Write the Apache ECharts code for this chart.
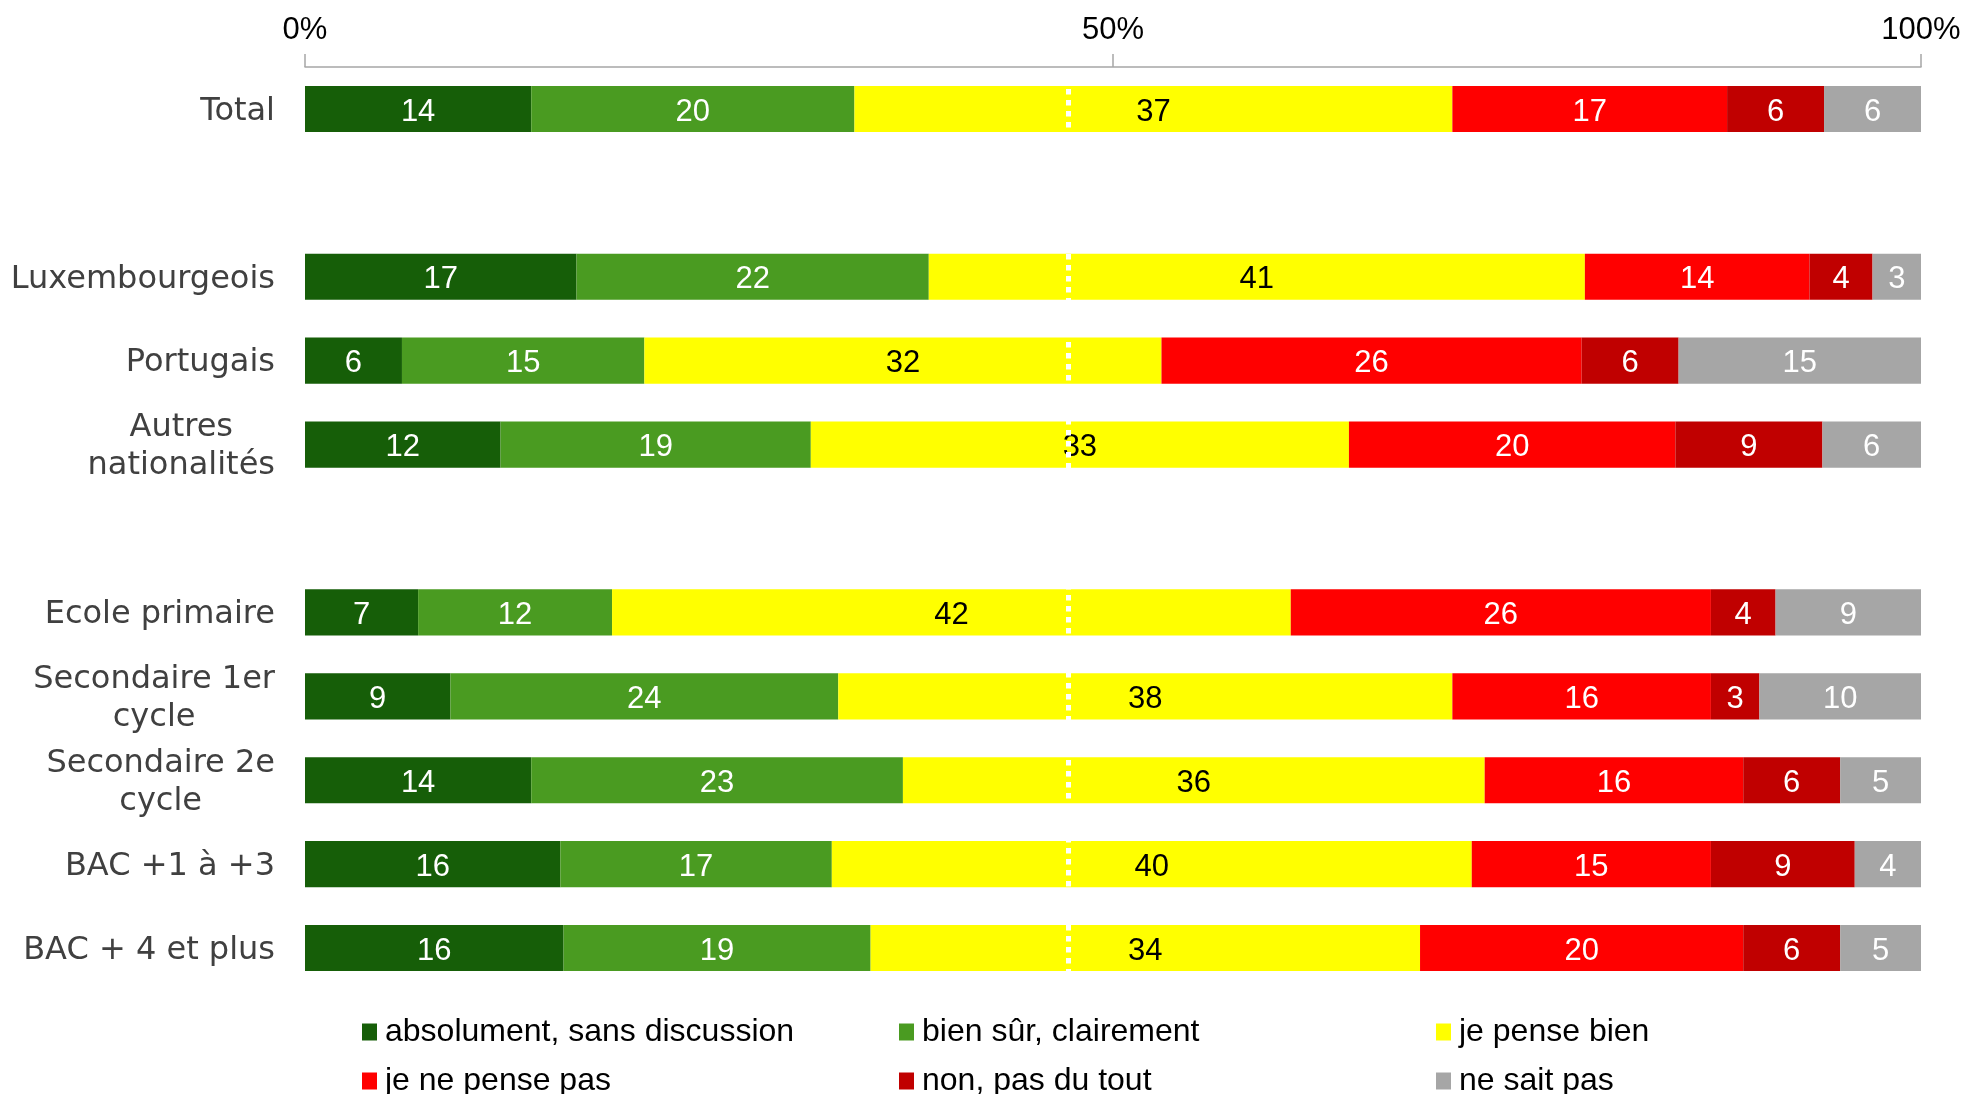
<!DOCTYPE html>
<html>
<head>
<meta charset="utf-8">
<script src="https://cdn.jsdelivr.net/npm/echarts@6/dist/echarts.min.js"></script>
<style>
html,body{margin:0;padding:0;background:#fff;}
#chart{width:1966px;height:1094px;}
</style>
</head>
<body>
<div id="chart"></div>
<script>
const categories = ['Total', '', 'Luxembourgeois', 'Portugais', 'Autres\nnationalités', '',
  'Ecole primaire', 'Secondaire 1er\ncycle', 'Secondaire 2e\ncycle', 'BAC +1 à +3', 'BAC + 4 et plus'];
const seriesNames = ['absolument, sans discussion', 'bien sûr, clairement', 'je pense bien',
  'je ne pense pas', 'non, pas du tout', 'ne sait pas'];
const absolument   = [14, null, 16.8, 6, 12.1, null, 7, 9, 14, 15.8, 16];
const bienSur      = [20, null, 21.8, 15, 19.2, null, 12, 24, 23, 16.8, 19];
const jePenseBien  = [37, null, 40.6, 32, 33.3, null, 42, 38, 36, 39.6, 34];
const jeNePensePas = [17, null, 13.9, 26, 20.2, null, 26, 16, 16, 14.8, 20];
const nonPasDuTout = [6, null, 3.9, 6, 9.1, null, 4, 3, 6, 8.9, 6];
const neSaitPas    = [6, null, 3.0, 15, 6.1, null, 9, 10, 5, 4.1, 5];
const tickValues = [0, 50, 100];
const refLine = 47.2;

const allData = [absolument, bienSur, jePenseBien, jeNePensePas, nonPasDuTout, neSaitPas];
const colors = ['#165e08', '#4a9b21', '#ffff00', '#ff0000', '#c00000', '#a6a6a6'];
const labelColors = ['#fff', '#fff', '#000', '#fff', '#fff', '#fff'];

const series = seriesNames.map((name, i) => {
  const s = {
    name: name,
    type: 'bar',
    stack: 'all',
    barWidth: '55%',
    data: allData[i],
    itemStyle: { color: colors[i] },
    label: {
      show: true,
      position: 'inside',
      offset: [0, 3],
      color: labelColors[i],
      fontFamily: 'Liberation Sans',
      fontSize: 31,
      formatter: p => (p.value == null ? '' : String(Math.round(p.value)))
    }
  };
  if (i === seriesNames.length - 1) {
    s.markLine = {
      silent: true,
      symbol: ['none', 'none'],
      label: { show: false },
      lineStyle: { color: '#ffffff', type: [5.5, 5.5], width: 5 },
      data: [{ xAxis: refLine }]
    };
  }
  return s;
});

const legendCols = [362, 899, 1436];
const legendRows = [1016, 1065];
const legends = seriesNames.map((name, i) => ({
  data: [name],
  left: legendCols[i % 3],
  top: legendRows[Math.floor(i / 3)],
  padding: 0,
  itemWidth: 15,
  itemHeight: 17,
  itemGap: 0,
  icon: 'rect',
  selectedMode: false,
  textStyle: { fontFamily: 'Liberation Sans', fontSize: 32, color: '#000', padding: [0, 0, 0, 3] }
}));

const chart = echarts.init(document.getElementById('chart'));
chart.setOption({
  animation: false,
  backgroundColor: '#ffffff',
  grid: { left: 305, right: 45, top: 67, height: 923 },
  legend: legends,
  xAxis: {
    type: 'value',
    position: 'top',
    z: 10,
    min: 0,
    max: 100,
    interval: 50,
    axisLine: { show: true, lineStyle: { color: '#a6a6a6', width: 1.5 } },
    axisTick: { show: true, length: 13, lineStyle: { color: '#a6a6a6', width: 1.5 } },
    splitLine: { show: false },
    axisLabel: {
      margin: 21,
      fontFamily: 'Liberation Sans',
      fontSize: 31,
      color: '#000',
      formatter: v => (tickValues.indexOf(v) >= 0 ? v + '%' : '')
    }
  },
  yAxis: {
    type: 'category',
    inverse: true,
    data: categories,
    axisLine: { show: false },
    axisTick: { show: false },
    axisLabel: {
      margin: 30,
      align: 'right',
      padding: [5, 0, 0, 0],
      formatter: v => v.split('\n').map(l => '{a|' + l + '}').join('\n'),
      rich: {
        a: {
          fontFamily: 'DejaVu Sans',
          fontSize: 32,
          lineHeight: 38,
          color: '#404040',
          align: 'center'
        }
      }
    }
  },
  series: series
});
</script>
</body>
</html>
